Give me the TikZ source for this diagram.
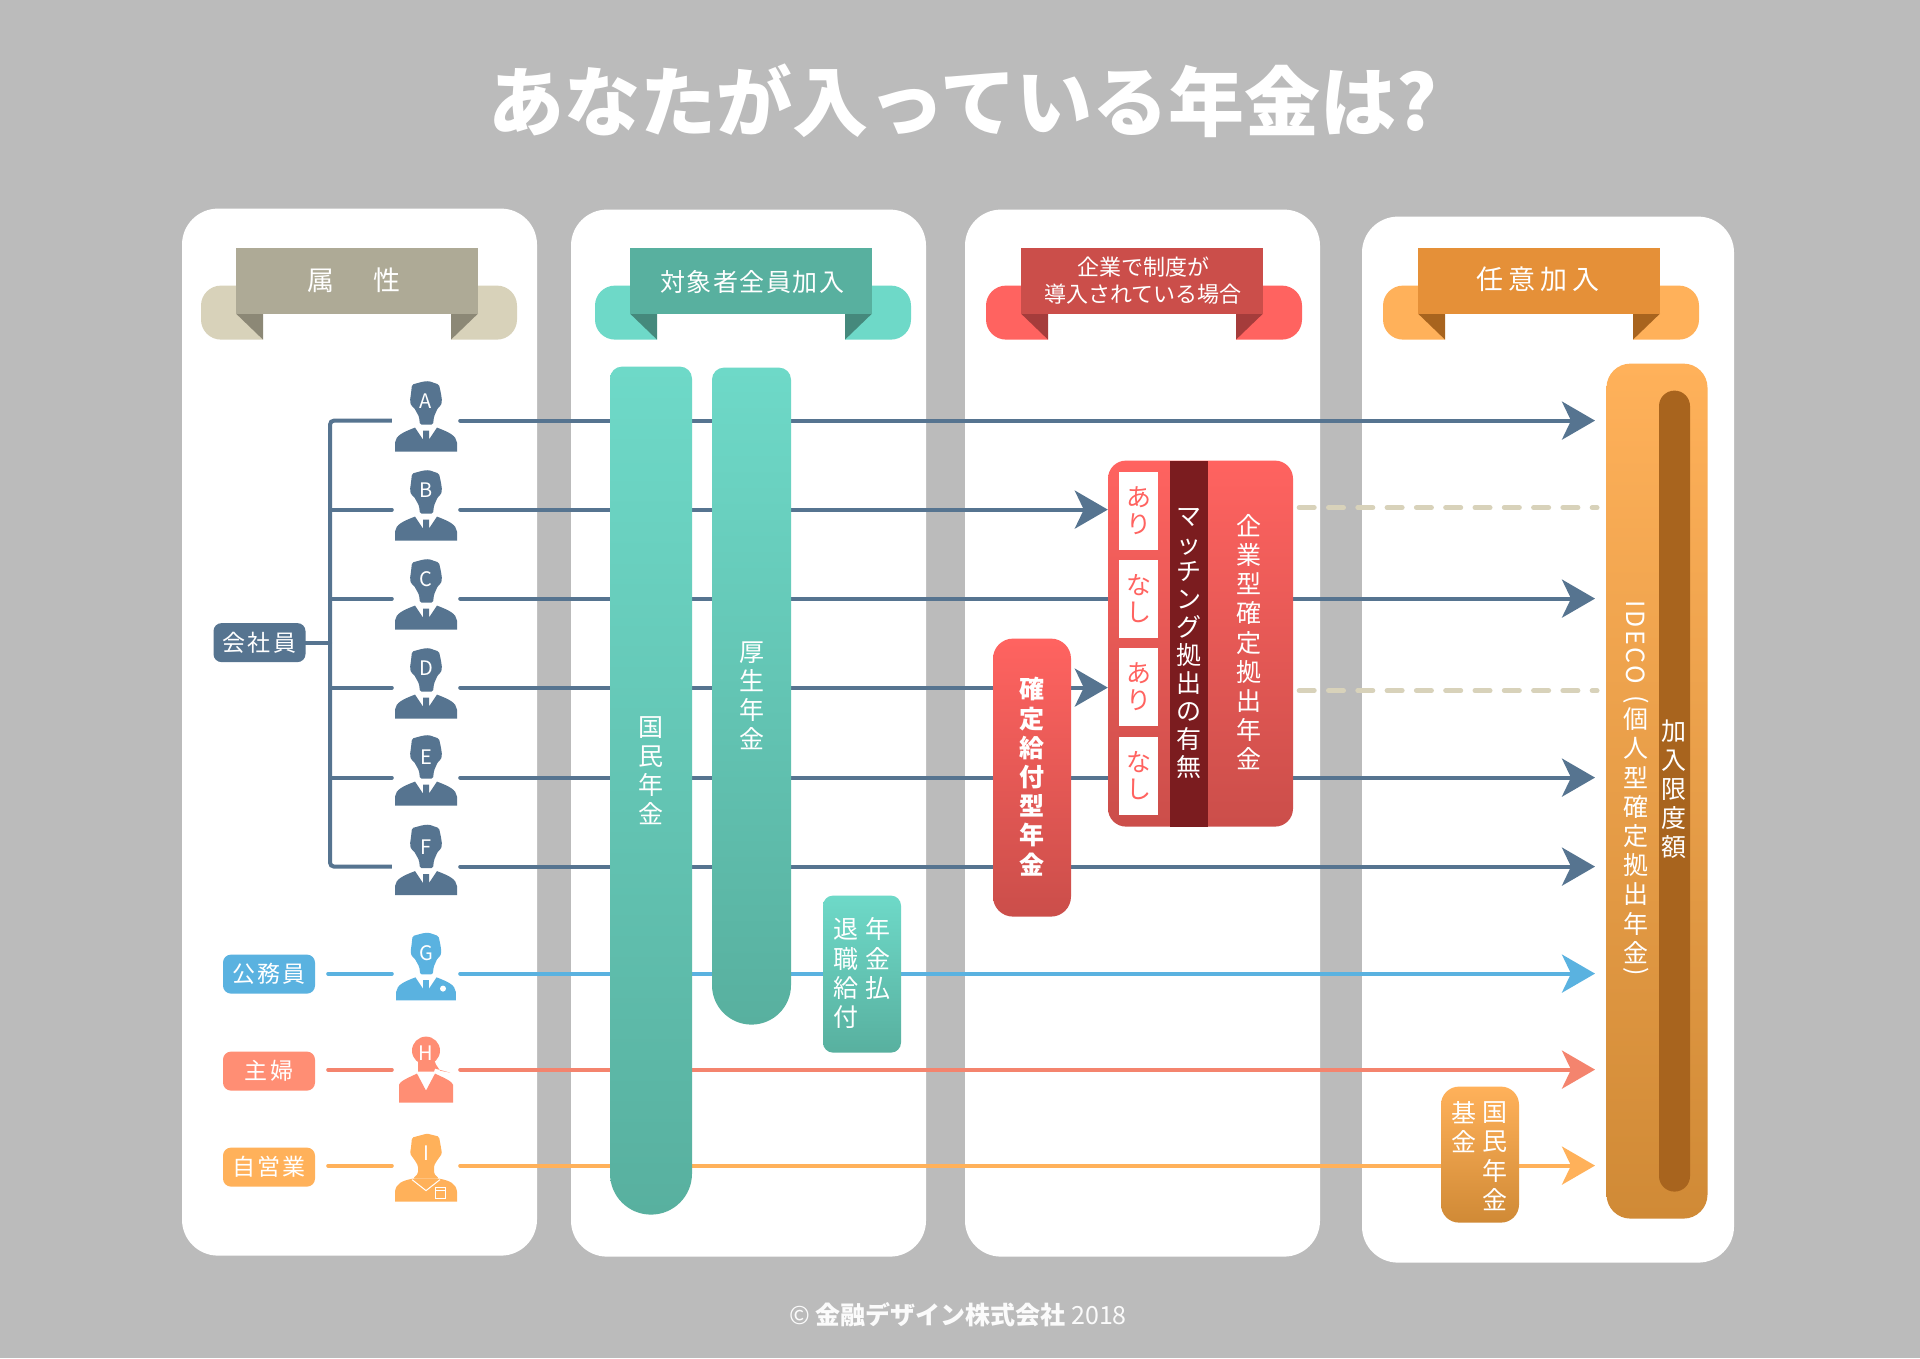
\documentclass[tikz,border=0pt]{standalone}
\usepackage{fontspec}
\setmainfont{Noto Sans CJK JP}
\usetikzlibrary{arrows.meta}
\definecolor{bggray}{HTML}{BBBBBB}
\definecolor{staff}{HTML}{567490}
\definecolor{civil}{HTML}{5AB2E0}
\definecolor{wife}{HTML}{FF8E74}
\definecolor{wifeline}{HTML}{F4846E}
\definecolor{owner}{HTML}{FFB15A}
\definecolor{beige}{HTML}{D8D2BA}
\definecolor{beigem}{HTML}{AEAA96}
\definecolor{beigef}{HTML}{8C8876}
\definecolor{tealb}{HTML}{6ED9C8}
\definecolor{tealm}{HTML}{58B09F}
\definecolor{tealf}{HTML}{45897C}
\definecolor{redb}{HTML}{FF6360}
\definecolor{redm}{HTML}{CB4E4A}
\definecolor{redf}{HTML}{A53C3B}
\definecolor{redd}{HTML}{7B1C1F}
\definecolor{orgm}{HTML}{E59038}
\definecolor{orgf}{HTML}{A8641E}
\definecolor{orgd}{HTML}{D08A36}
\tikzset{
  panel/.style={fill=white,rounded corners=36pt},
  row/.style={line width=4pt,line cap=round},
  rowarrow/.style={row,-{Stealth[length=33pt,width=38pt,inset=9pt]}},
  trunk/.style={line width=4pt,draw=staff,rounded corners=4pt},
  dashrow/.style={line width=5pt,draw=beige,line cap=round,dash pattern=on 15pt off 14.3pt},
  vtext/.style={text=white,align=center,inner sep=0pt,font=\fontsize{25}{29.2}\selectfont},
  ribbontext/.style={text=white,align=center,inner sep=0pt},
  tagbox/.style={rounded corners=8pt,minimum width=92pt,minimum height=39pt,inner sep=0pt,text=white,font=\fontsize{23}{26}\selectfont\addfontfeature{LetterSpace=10}},
  letter/.style={text=white,inner sep=0pt,font=\fontsize{20}{22}\selectfont},
  holder/.style={minimum width=68pt,minimum height=10pt,inner sep=0pt},
  teal/.style={top color=tealb,bottom color=tealm},
  redbar/.style={top color=redb,bottom color=redm},
  orgbar/.style={top color=owner,bottom color=orgd},
  yesno/.style={fill=white,minimum width=39pt,minimum height=78pt,inner sep=0pt,text=redb,align=center,font=\fontsize{25}{26.5}\selectfont},
  manicon/.pic={
    \path[pic actions,rounded corners=1.5pt] (-14,-36) -- (-3,-39) -- (3,-39.5) -- (13,-36) -- (15,-27) -- (16,-20) -- (15,-15) -- (12,-13) -- (8,-4) -- (7,4) -- (-6,4) -- (-7,-4) -- (-12,-13) -- (-15,-15) -- (-16,-20) -- (-15,-27) -- cycle;
    \path[pic actions] (-31,31) -- (-31,22) .. controls (-30,15) and (-24,12) .. (-11,7) -- (-3,19) -- (-3,10) -- (3,10) -- (3,19) -- (11,7) .. controls (24,12) and (30,15) .. (31,22) -- (31,31) -- cycle;
  },
  wifeicon/.pic={
    \path[pic actions] (0,-19) circle (14);
    \path[pic actions] (-8,-10) -- (-8,2) -- (8,2) -- (9,-1) -- (24,3) -- (14,1) -- (10,-5) -- (8,-10) -- cycle;
    \path[pic actions] (-27,33) -- (-27,15) .. controls (-26,12) and (-20,9) .. (-9,4) -- (0,21) -- (9,4) .. controls (20,9) and (26,12) .. (27,15) -- (27,33) -- cycle;
  },
  ownericon/.pic={
    \path[pic actions,rounded corners=1.5pt] (-14,-28) -- (1,-32) -- (13,-29) -- (15,-18) -- (16,-12) -- (11,-5) -- (8,0) -- (8,8) -- (13,13) -- (-13,13) -- (-8,8) -- (-8,0) -- (-11,-5) -- (-16,-12) -- (-15,-18) -- cycle;
    \path[pic actions] (-31,36) -- (-31,26) .. controls (-30,18) and (-24,15) .. (-13,13) -- (13,13) .. controls (24,15) and (30,18) .. (31,26) -- (31,36) -- cycle;
    \draw[white,line width=1pt] (-14,14) -- (0,25) -- (14,14);
    \draw[white,line width=1pt] (9,22) rectangle (19,33) (9,25) -- (19,25);
  }
}
\begin{document}
\begin{tikzpicture}[x=1pt,y=-1pt]
\useasboundingbox (0,-0.6) rectangle (1920,1357.4);
\fill[bggray] (0,-0.6) rectangle (1920,1357.4);
\node[text=white,inner sep=0pt,font=\fontsize{76}{80}\selectfont\bfseries] (title) at (963,100) {あなたが入っている年金は?};
% panels
\fill[panel] (182,208) rectangle (537,1255);
\fill[panel] (571,209) rectangle (926,1256);
\fill[panel] (965,209) rectangle (1320,1256);
\fill[panel] (1362,216) rectangle (1734,1262);
% ribbons
\foreach \dx/\cb/\cm/\cf in {0/beige/beigem/beigef,394/tealb/tealm/tealf,785/redb/redm/redf,1182/owner/orgm/orgf} {
  \fill[\cb,rounded corners=20pt] (201+\dx,285) rectangle (517+\dx,339);
  \fill[white] (263+\dx,313) rectangle (451+\dx,345);
  \fill[\cf] (236+\dx,313) -- (263+\dx,313) -- (263+\dx,339) -- cycle;
  \fill[\cf] (478+\dx,313) -- (451+\dx,313) -- (451+\dx,339) -- cycle;
  \fill[\cm] (236+\dx,247) rectangle (478+\dx,313);
}
\node[ribbontext,font=\fontsize{27}{30}\selectfont] (zokusei) at (354,280) {属\hspace{40pt}性};
\node[ribbontext,font=\fontsize{25}{30}\selectfont\addfontfeature{LetterSpace=6}] (zenin) at (752,281) {対象者全員加入};
\node[ribbontext,font=\fontsize{22}{27}\selectfont] (kigyo) at (1143,280) {企業で制度が\\導入されている場合};
\node[ribbontext,font=\fontsize{27}{30}\selectfont\addfontfeature{LetterSpace=19}] (nini) at (1538,279) {任意加入};
% left side
\node[tagbox,fill=staff] (kaisha) at (259.5,642) {会社員};
\node[tagbox,fill=civil] (koumu) at (269,973.5) {公務員};
\node[tagbox,fill=wife] (shufu) at (269,1070.5) {主婦};
\node[tagbox,fill=owner] (jiei) at (269,1166.5) {自営業};
\foreach \n/\y in {A/420,B/509,C/598,D/687,E/777,F/866,G/973,H/1069,I/1165}
  \node[holder] (p\n) at (426,\y) {};
\foreach \n/\y in {A/420,C/598,E/777,F/866,G/973,H/1069,I/1165}
  \coordinate (end\n) at (1595,\y);
\coordinate (trunkT) at (330,420);
\coordinate (trunkB) at (330,866);
\draw[trunk] (pA.west) -- (trunkT) -- (trunkB) -- (pF.west);
\foreach \n in {B,C,D,E}
  \draw[row,staff] (p\n.west) -- (trunkT |- p\n.west);
\draw[row,staff] (kaisha.east) -- (trunkT |- kaisha.east);
\draw[row,civil,shorten <=13pt] (koumu.east |- pG.west) -- (pG.west);
\draw[row,wifeline,shorten <=13pt] (shufu.east |- pH.west) -- (pH.west);
\draw[row,owner,shorten <=13pt] (jiei.east |- pI.west) -- (pI.west);
% matching box is named here, drawn after the rows
\path (1200.5,643) node[minimum width=185pt,minimum height=366pt,inner sep=0pt] (corpbox) {};
\foreach \n in {A,C,E,F}
  \draw[rowarrow,staff] (p\n.east) -- (end\n);
\foreach \n in {B,D}
  \draw[rowarrow,staff] (p\n.east) -- (p\n.east -| corpbox.west);
\draw[rowarrow,civil] (pG.east) -- (endG);
\draw[rowarrow,wifeline] (pH.east) -- (endH);
\draw[rowarrow,owner] (pI.east) -- (endI);
\coordinate (dashB) at (1597,507);
\coordinate (dashD) at (1597,690);
\draw[dashrow] (dashB -| corpbox.east) ++(6,0) -- (dashB);
\draw[dashrow] (dashD -| corpbox.east) ++(6,0) -- (dashD);
% icons
\foreach \n/\y in {A/420,B/509,C/598,D/687,E/774,F/863.5}
  \pic[fill=staff] at (426,\y) {manicon};
\pic[fill=civil,yscale=0.96,xscale=0.96] at (426,970) {manicon};
\fill[white] (443,988) circle (3);
\pic[fill=wife] at (426,1069) {wifeicon};
\pic[fill=owner] at (426,1165) {ownericon};
\foreach \n/\y/\t in {A/401/A,B/490/B,C/579/C,D/668/D,E/757/E,F/847/F,G/953/G,H/1053/H,I/1153/I}
  \node[letter] (l\n) at (426,\y) {\t};
% teal bars
\path[teal] [rounded corners=12pt] (610,800) -- (610,366) -- (692,366) -- (692,800) [rounded corners=41pt] -- (692,1214) -- (610,1214) -- cycle;
\path[teal] [rounded corners=12pt] (712,700) -- (712,367) -- (791,367) -- (791,700) [rounded corners=39.5pt] -- (791,1024) -- (712,1024) -- cycle;
\node[teal,rounded corners=10pt,minimum width=78pt,minimum height=157pt,inner sep=0pt] (taishoku) at (862,973.5) {};
\node[vtext] (kokumin) at (651,770) {国\\民\\年\\金};
\node[vtext] (kosei) at (751.5,695) {厚\\生\\年\\金};
\node[vtext] (nenkinbarai) at (878,958) {年\\金\\払};
\node[vtext] (taishokut) at (846,973) {退\\職\\給\\付};
% red boxes
\node[redbar,rounded corners=20pt,minimum width=78pt,minimum height=278pt,inner sep=0pt] (kyufu) at (1032,777) {};
\node[vtext,font=\fontsize{25}{29.2}\selectfont\bfseries] (kyufut) at (1032,776) {確\\定\\給\\付\\型\\年\\金};
\node[redbar,rounded corners=18pt,minimum width=185pt,minimum height=366pt,inner sep=0pt] (corpfill) at (corpbox) {};
\fill[redd] (1170,460) rectangle (1208,826);
\node[vtext] (corpt) at (1249,641.5) {企\\業\\型\\確\\定\\拠\\出\\年\\金};
\node[vtext,font=\fontsize{25}{27.9}\selectfont] (matcht) at (1189,642.5) {マ\\ッ\\チ\\ン\\グ\\拠\\出\\の\\有\\無};
\foreach \n/\y/\t in {a/510/あ\\り,b/598/な\\し,c/686/あ\\り,d/775/な\\し}
  \node[yesno] (yn\n) at (1138.5,\y) {\t};
% orange boxes
\node[orgbar,rounded corners=18pt,minimum width=78pt,minimum height=136pt,inner sep=0pt] (kikin) at (1480,1154) {};
\node[vtext] (kikina) at (1495,1155.5) {国\\民\\年\\金};
\node[vtext] (kikinb) at (1464,1126.5) {基\\金};
\node[orgbar,rounded corners=24pt,minimum width=101pt,minimum height=855pt,inner sep=0pt] (ideco) at (1657,790.5) {};
\node[fill=orgf,rounded corners=15.5pt,minimum width=31pt,minimum height=801pt,inner sep=0pt] (limit) at (1674.5,790.5) {};
\node[text=white,rotate=-90,inner sep=0pt,font=\fontsize{25}{29}\selectfont\addfontfeature{LetterSpace=10}] (idecot) at (1636,641.5) {IDECO};
\node[text=white,rotate=-90,inner sep=0pt,font=\fontsize{25}{29}\selectfont] (parenl) at (1636,699) {(};
\node[vtext] (idecoj) at (1636,835) {個\\人\\型\\確\\定\\拠\\出\\年\\金};
\node[text=white,rotate=-90,inner sep=0pt,font=\fontsize{25}{29}\selectfont] (parenr) at (1636,971) {)};
\node[vtext] (limitt) at (1674,788.5) {加\\入\\限\\度\\額};
% footer
\node[text=white!94!bggray,inner sep=0pt,font=\fontsize{25}{28}\selectfont] (copyr) at (958,1314) {© {\bfseries 金融デザイン株式会社} 2018};
\end{tikzpicture}
\end{document}
